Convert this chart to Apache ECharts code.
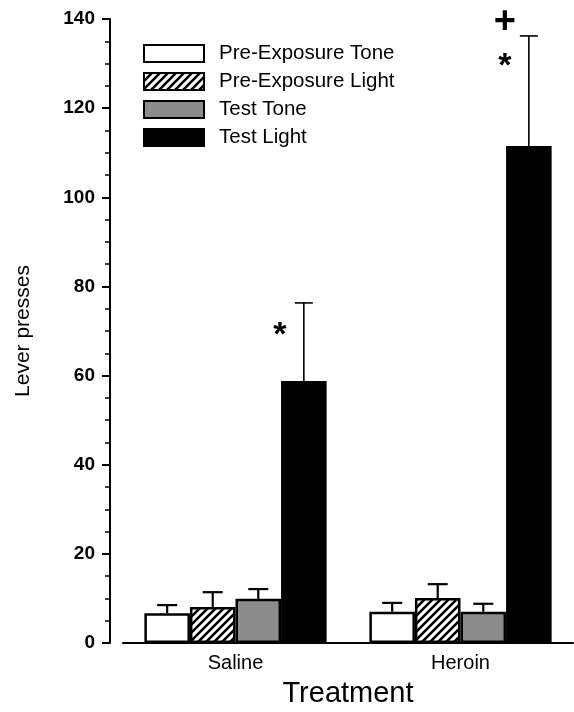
<!DOCTYPE html>
<html>
<head>
<meta charset="utf-8">
<script src="https://cdn.jsdelivr.net/npm/echarts@6/dist/echarts.min.js"></script>
<style>
  html, body { margin: 0; padding: 0; background: #fff; }
  #main { width: 574px; height: 712px; }
</style>
</head>
<body>
<div id="main"></div>
<script>
var categories = ['Saline', 'Heroin'];
var seriesNames = ['Pre-Exposure Tone', 'Pre-Exposure Light', 'Test Tone', 'Test Light'];
// means per series, [Saline, Heroin]
var preToneMean = [6.7, 7.0];
var preLightMean = [8.1, 10.1];
var testToneMean = [9.9, 7.0];
var testLightMean = [58.8, 111.5];
// top of the error bars (mean + SEM)
var preToneErr = [8.5, 9.0];
var preLightErr = [11.4, 13.2];
var testToneErr = [12.1, 8.8];
var testLightErr = [76.3, 136.2];
// significance marks drawn next to the Test Light bars
var sigCategory = [0, 1, 1];
var sigValue = [70, 130.5, 139.5];
var sigText = ['*', '*', '+'];

var yTicks = { min: 0, max: 140, interval: 20 };

var FONT = '"Liberation Sans", Arial, sans-serif';

// diagonal hatching for the Pre-Exposure Light bars
function makeHatch() {
  var c = document.createElement('canvas');
  var s = 8;
  c.width = s; c.height = s;
  var ctx = c.getContext('2d');
  ctx.fillStyle = '#fff';
  ctx.fillRect(0, 0, s, s);
  ctx.strokeStyle = '#000';
  ctx.lineWidth = 2.6;
  ctx.beginPath();
  ctx.moveTo(-s, 2 * s); ctx.lineTo(2 * s, -s);
  ctx.moveTo(-2 * s, 2 * s); ctx.lineTo(s, -s);
  ctx.moveTo(0, 2 * s); ctx.lineTo(3 * s, -s);
  ctx.stroke();
  return c;
}

var fills = ['#ffffff', { image: makeHatch(), repeat: 'repeat' }, '#8c8c8c', '#000000'];
var means = [preToneMean, preLightMean, testToneMean, testLightMean];
var errs = [preToneErr, preLightErr, testToneErr, testLightErr];

var CAT_GAP = 0.19;

var barSeries = seriesNames.map(function (name, i) {
  return {
    name: name,
    type: 'bar',
    data: means[i],
    barGap: '0%',
    barCategoryGap: (CAT_GAP * 100) + '%',
    itemStyle: { color: fills[i], borderColor: '#000', borderWidth: 2.5 },
    z: 2
  };
});

// error bar data: [category, seriesIndex, mean, top]
var errData = [];
for (var s = 0; s < 4; s++) {
  for (var c = 0; c < categories.length; c++) {
    errData.push([c, s, means[s][c], errs[s][c]]);
  }
}

function barCenterX(api, cat, sIdx) {
  var center = api.coord([cat, 0])[0];
  var band = api.size([1, 0])[0];
  var bw = band * (1 - CAT_GAP) / 4;
  return center + (sIdx - 1.5) * bw;
}

var errSeries = {
  type: 'custom',
  name: 'err',
  z: 3,
  silent: true,
  data: errData,
  renderItem: function (params, api) {
    var cat = api.value(0), sIdx = api.value(1);
    var x = barCenterX(api, cat, sIdx);
    var y0 = api.coord([cat, api.value(2)])[1];
    var y1 = api.coord([cat, api.value(3)])[1];
    var half = sIdx === 3 ? 9 : 10;
    var lw = sIdx === 3 ? 1.6 : 2.2;
    return {
      type: 'group',
      children: [
        { type: 'line', shape: { x1: x, y1: y0, x2: x, y2: y1 }, style: { stroke: '#000', lineWidth: lw } },
        { type: 'line', shape: { x1: x - half, y1: y1, x2: x + half, y2: y1 }, style: { stroke: '#000', lineWidth: lw } }
      ]
    };
  }
};

var sigData = sigCategory.map(function (c, i) { return [c, sigValue[i], sigText[i]]; });

var sigSeries = {
  type: 'custom',
  name: 'sig',
  z: 4,
  silent: true,
  data: sigData,
  renderItem: function (params, api) {
    var cat = api.value(0);
    var x = barCenterX(api, cat, 3) - 24;
    var y = api.coord([cat, api.value(1)])[1];
    var txt = sigData[params.dataIndex][2];
    return {
      type: 'text',
      style: {
        x: x, y: txt === '*' ? y + 5 : y + 1,
        text: txt,
        fill: '#000',
        font: txt === '*' ? 'bold 34px ' + FONT : 'bold 38px ' + FONT,
        align: 'center',
        verticalAlign: 'middle'
      }
    };
  }
};

var chart = echarts.init(document.getElementById('main'));
chart.setOption({
  animation: false,
  backgroundColor: '#fff',
  grid: { left: 123, right: 1, top: 19, bottom: 69, outerBoundsMode: 'none', containLabel: false },
  legend: {
    data: seriesNames.map(function (n) { return { name: n, icon: 'rect' }; }),
    orient: 'vertical',
    left: 143,
    top: 43,
    itemWidth: 60,
    itemHeight: 17,
    itemGap: 7,
    padding: 0,
    selectedMode: false,
    textStyle: {
      fontFamily: FONT,
      fontSize: 20.5,
      lineHeight: 20,
      color: '#000',
      padding: [0, 0, 0, 10]
    }
  },
  xAxis: {
    type: 'category',
    data: categories,
    name: 'Treatment',
    nameLocation: 'middle',
    nameGap: 36,
    nameTextStyle: { fontFamily: FONT, fontSize: 29, color: '#000' },
    axisLine: { lineStyle: { color: '#000', width: 2 } },
    axisTick: { show: false },
    axisLabel: { fontFamily: FONT, fontSize: 20, color: '#000', margin: 10 },
    splitLine: { show: false }
  },
  yAxis: {
    type: 'value',
    min: yTicks.min,
    max: yTicks.max,
    interval: yTicks.interval,
    offset: 13,
    name: 'Lever presses',
    nameLocation: 'middle',
    nameGap: 76,
    nameTextStyle: { fontFamily: FONT, fontSize: 21, color: '#000' },
    axisLine: { show: true, lineStyle: { color: '#000', width: 2 } },
    axisTick: { show: true, length: 8, lineStyle: { color: '#000', width: 2 } },
    minorTick: { show: true, splitNumber: 4, length: 5, lineStyle: { color: '#000', width: 1.5 } },
    axisLabel: { fontFamily: FONT, fontSize: 19, fontWeight: 'bold', color: '#000', margin: 15 },
    splitLine: { show: false }
  },
  series: barSeries.concat([errSeries, sigSeries])
});
</script>
</body>
</html>
